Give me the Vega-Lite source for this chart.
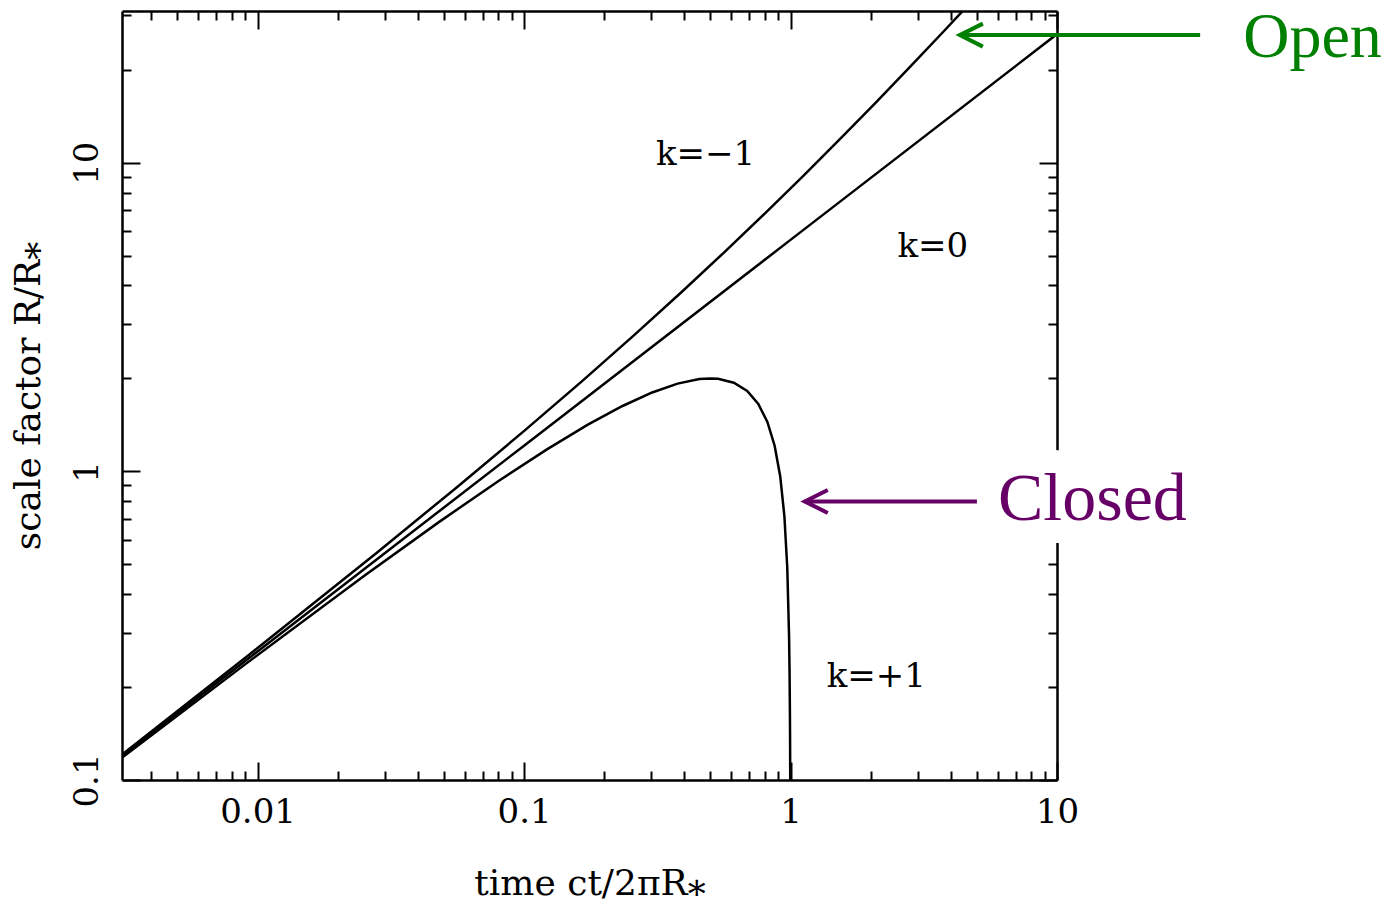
{
  "$schema": "https://vega.github.io/schema/vega-lite/v6.json",
  "width": 935,
  "height": 769,
  "autosize": {"type": "none"},
  "padding": {"left": 122, "top": 11, "right": 342, "bottom": 123},
  "background": "white",
  "config": {
    "view": {"stroke": null},
    "axis": {
      "grid": false,
      "domainColor": "black",
      "domainWidth": 2.5,
      "tickColor": "black",
      "tickWidth": 2,
      "labelFont": "DejaVu Serif",
      "labelFontSize": 34,
      "labelColor": "black",
      "titleFont": "DejaVu Serif",
      "titleFontSize": 36,
      "titleFontWeight": "normal",
      "titleColor": "black",
      "labelOverlap": false,
      "labelFlush": false,
      "zindex": 0
    }
  },
  "datasets": {
    "curves": [
      {"k": "-1", "t": 0.0029675, "R": 0.11743},
      {"k": "-1", "t": 0.0093238, "R": 0.255169},
      {"k": "-1", "t": 0.0278842, "R": 0.5430806},
      {"k": "-1", "t": 0.0560097, "R": 0.888424},
      {"k": "-1", "t": 0.100153, "R": 1.3524096},
      {"k": "-1", "t": 0.165587, "R": 1.964188},
      {"k": "-1", "t": 0.258922, "R": 2.7621957},
      {"k": "-1", "t": 0.388524, "R": 3.796567},
      {"k": "-1", "t": 0.565032, "R": 5.1322895},
      {"k": "-1", "t": 0.802037, "R": 6.85328},
      {"k": "-1", "t": 1.116926, "R": 9.067662},
      {"k": "-1", "t": 1.53199, "R": 11.914557},
      {"k": "-1", "t": 2.075796, "R": 15.572825},
      {"k": "-1", "t": 2.785018, "R": 20.2723},
      {"k": "-1", "t": 3.706702, "R": 26.308233},
      {"k": "-1", "t": 4.637079, "R": 32.350663},
      {"k": "0", "t": 0.0029, "R": 0.11431},
      {"k": "0", "t": 0.01, "R": 0.260919},
      {"k": "0", "t": 0.1, "R": 1.211115},
      {"k": "0", "t": 1, "R": 5.62127},
      {"k": "0", "t": 10, "R": 26.0912},
      {"k": "+1", "t": 0.0028999, "R": 0.113005},
      {"k": "+1", "t": 0.008878, "R": 0.235158},
      {"k": "+1", "t": 0.0252306, "R": 0.4596977},
      {"k": "+1", "t": 0.047908, "R": 0.6846776},
      {"k": "+1", "t": 0.0799761, "R": 0.9292628},
      {"k": "+1", "t": 0.121915, "R": 1.1782461},
      {"k": "+1", "t": 0.173591, "R": 1.4161468},
      {"k": "+1", "t": 0.234264, "R": 1.6281736},
      {"k": "+1", "t": 0.302637, "R": 1.8011436},
      {"k": "+1", "t": 0.376933, "R": 1.9243024},
      {"k": "+1", "t": 0.455006, "R": 1.9899925},
      {"k": "+1", "t": 0.5, "R": 2.0},
      {"k": "+1", "t": 0.534473, "R": 1.99413},
      {"k": "+1", "t": 0.61287, "R": 1.9364567},
      {"k": "+1", "t": 0.687797, "R": 1.82056},
      {"k": "+1", "t": 0.757068, "R": 1.6536436},
      {"k": "+1", "t": 0.81885, "R": 1.446087},
      {"k": "+1", "t": 0.871775, "R": 1.2107958},
      {"k": "+1", "t": 0.915028, "R": 0.962398},
      {"k": "+1", "t": 0.948391, "R": 0.7163378},
      {"k": "+1", "t": 0.972267, "R": 0.487914},
      {"k": "+1", "t": 0.987642, "R": 0.291328},
      {"k": "+1", "t": 0.991737, "R": 0.224434},
      {"k": "+1", "t": 0.994827, "R": 0.165288},
      {"k": "+1", "t": 0.996036, "R": 0.138808},
      {"k": "+1", "t": 0.997043, "R": 0.114481},
      {"k": "+1", "t": 0.997853, "R": 0.092366}
    ],
    "labels": [
      {"t": 0.48, "R": 9.8, "txt": "k=−1"},
      {"t": 3.42, "R": 4.935, "txt": "k=0"},
      {"t": 2.099, "R": 0.1997, "txt": "k=+1"}
    ],
    "notes": [
      {"t": 49.97, "R": 21.93, "txt": "Open", "name": "open"},
      {"t": 6.003, "R": 0.6933, "txt": "Closed", "name": "closed"}
    ],
    "arrows": [
      {"t": 4.32, "t2": 34.45, "R": 25.9, "name": "open"},
      {"t": 1.131, "t2": 5.006, "R": 0.799, "name": "closed"}
    ]
  },
  "layer": [
    {
      "data": {"name": "curves"},
      "mark": {"type": "line", "clip": true, "color": "black", "strokeWidth": 2.5},
      "encoding": {
        "x": {
          "field": "t", "type": "quantitative",
          "scale": {"type": "log", "domain": [0.0031, 10], "nice": false},
          "axis": {
            "orient": "bottom",
            "values": [0.004,0.005,0.006,0.007,0.008,0.009,0.01,0.02,0.03,0.04,0.05,0.06,0.07,0.08,0.09,0.1,0.2,0.3,0.4,0.5,0.6,0.7,0.8,0.9,1,2,3,4,5,6,7,8,9,10],
            "labelExpr": "indexof([0.01,0.1,1,10], datum.value) >= 0 ? toString(datum.value) : ''",
            "tickSize": {"condition": {"test": "indexof([0.01,0.1,1,10], datum.value) >= 0", "value": -18}, "value": -9},
            "labelPadding": 33,
            "title": "time ct/2πR⁎",
            "titlePadding": 28
          }
        },
        "y": {
          "field": "R", "type": "quantitative",
          "scale": {"type": "log", "domain": [0.1, 31], "nice": false},
          "axis": {
            "orient": "left",
            "values": [0.1,0.2,0.3,0.4,0.5,0.6,0.7,0.8,0.9,1,2,3,4,5,6,7,8,9,10,20,30],
            "labelExpr": "indexof([0.1,1,10], datum.value) >= 0 ? toString(datum.value) : ''",
            "tickSize": {"condition": {"test": "indexof([0.1,1,10], datum.value) >= 0", "value": -18}, "value": -9},
            "labelAngle": -90,
            "labelAlign": "center",
            "labelBaseline": "bottom",
            "labelPadding": 36,
            "title": "scale factor R/R⁎",
            "titlePadding": 14
          }
        },
        "detail": {"field": "k"}
      }
    },
    {
      "data": {"name": "labels"},
      "mark": {"type": "text", "font": "DejaVu Serif", "fontSize": 34, "align": "center", "baseline": "alphabetic", "color": "black"},
      "encoding": {
        "x": {
          "field": "t", "type": "quantitative",
          "axis": {
            "orient": "top",
            "values": [0.004,0.005,0.006,0.007,0.008,0.009,0.01,0.02,0.03,0.04,0.05,0.06,0.07,0.08,0.09,0.1,0.2,0.3,0.4,0.5,0.6,0.7,0.8,0.9,1,2,3,4,5,6,7,8,9,10],
            "labels": false,
            "title": null,
            "tickSize": {"condition": {"test": "indexof([0.01,0.1,1,10], datum.value) >= 0", "value": -18}, "value": -9}
          }
        },
        "y": {
          "field": "R", "type": "quantitative",
          "axis": {
            "orient": "right",
            "values": [0.1,0.2,0.3,0.4,0.5,0.6,0.7,0.8,0.9,1,2,3,4,5,6,7,8,9,10,20,30],
            "labels": false,
            "title": null,
            "tickSize": {"condition": {"test": "indexof([0.1,1,10], datum.value) >= 0", "value": -18}, "value": -9}
          }
        },
        "text": {"field": "txt"}
      }
    },
    {
      "data": {"name": "notes"},
      "transform": [{"filter": "datum.name == 'closed'"}],
      "mark": {"type": "text", "font": "Liberation Serif", "fontSize": 68, "align": "left", "baseline": "alphabetic", "fill": "white", "stroke": "white", "strokeWidth": 46, "strokeJoin": "round"},
      "encoding": {
        "x": {"field": "t", "type": "quantitative", "axis": null},
        "y": {"field": "R", "type": "quantitative", "axis": null},
        "text": {"field": "txt"}
      }
    },
    {
      "data": {"name": "arrows"},
      "mark": {"type": "rule", "strokeWidth": 4},
      "encoding": {
        "x": {"field": "t", "type": "quantitative", "axis": null},
        "x2": {"field": "t2"},
        "y": {"field": "R", "type": "quantitative", "axis": null},
        "color": {"field": "name", "type": "nominal", "scale": {"domain": ["open", "closed"], "range": ["#008000", "#660066"]}, "legend": null}
      }
    },
    {
      "data": {"name": "arrows"},
      "mark": {"type": "point", "shape": "M 1 -0.5 L 0 0 L 1 0.5", "size": 2116, "filled": false, "strokeWidth": 4, "opacity": 1},
      "encoding": {
        "x": {"field": "t", "type": "quantitative", "axis": null},
        "y": {"field": "R", "type": "quantitative", "axis": null},
        "color": {"field": "name", "type": "nominal", "legend": null}
      }
    },
    {
      "data": {"name": "notes"},
      "transform": [{"filter": "datum.name == 'closed'"}],
      "mark": {"type": "text", "font": "Liberation Serif", "fontSize": 68, "align": "left", "baseline": "alphabetic"},
      "encoding": {
        "x": {"field": "t", "type": "quantitative", "axis": null},
        "y": {"field": "R", "type": "quantitative", "axis": null},
        "text": {"field": "txt"},
        "color": {"field": "name", "type": "nominal", "legend": null}
      }
    },
    {
      "data": {"name": "notes"},
      "transform": [{"filter": "datum.name == 'open'"}],
      "mark": {"type": "text", "font": "Liberation Serif", "fontSize": 64, "align": "left", "baseline": "alphabetic"},
      "encoding": {
        "x": {"field": "t", "type": "quantitative", "axis": null},
        "y": {"field": "R", "type": "quantitative", "axis": null},
        "text": {"field": "txt"},
        "color": {"field": "name", "type": "nominal", "legend": null}
      }
    }
  ]
}
